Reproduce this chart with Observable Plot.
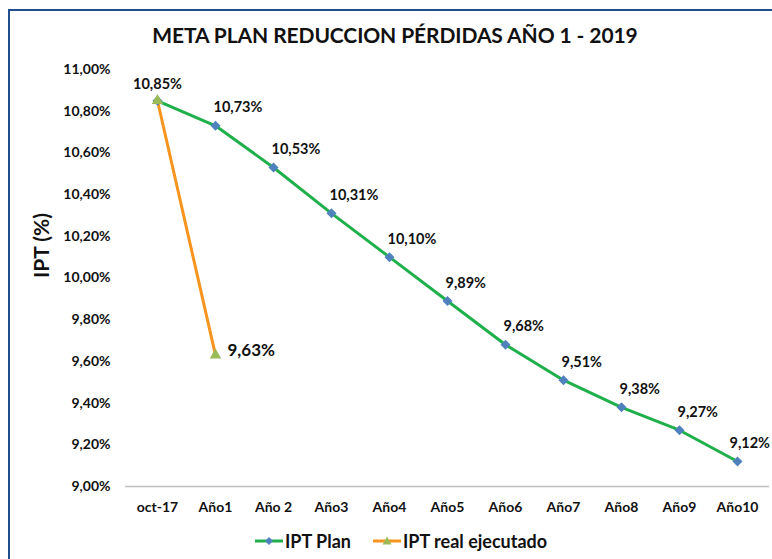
<!DOCTYPE html>
<html>
<head>
<meta charset="utf-8">
<script src="https://cdn.jsdelivr.net/npm/d3@7"></script>
<script src="https://cdn.jsdelivr.net/npm/@observablehq/plot@0.6"></script>
<style>
  html, body { margin: 0; padding: 0; background: #fff; }
  #wrap { position: relative; width: 772px; height: 559px; overflow: hidden; font-family: Lato, "Open Sans", sans-serif; }
  #frame { position: absolute; left: 8px; top: 9px; width: 800px; height: 600px; border-left: 2px solid #1f4e8c; border-top: 2px solid #1f4e8c; box-sizing: border-box; }
  #title { position: absolute; left: 0; top: 22px; width: 790px; text-align: center; font-size: 21px; font-weight: bold; color: #111; letter-spacing: -0.1px; }
  #chart { position: absolute; left: 0; top: 55px; }
  #chart svg { overflow: hidden; }
  #legend { position: absolute; top: 530px; left: 255px; height: 22px; display: flex; align-items: center; font-size: 18px; font-weight: bold; color: #111; }
  #legend .item { display: flex; align-items: center; margin-right: 22px; }
  #legend svg { margin-right: 2px; }
</style>
</head>
<body>
<div id="wrap">
  <div id="frame"></div>
  <div id="title">META PLAN REDUCCION PÉRDIDAS AÑO 1 - 2019</div>
  <div id="chart"></div>
  <div id="legend">
    <div class="item">
      <svg width="28" height="12"><line x1="0" y1="6" x2="28" y2="6" stroke="#1fb04b" stroke-width="3"/><path d="M14,2 L18,6 L14,10 L10,6 Z" fill="#4f81bd"/></svg>
      <span>IPT Plan</span>
    </div>
    <div class="item">
      <svg width="28" height="12"><line x1="0" y1="6" x2="28" y2="6" stroke="#f7941d" stroke-width="3"/><path d="M14,1.5 L18.5,9.5 L9.5,9.5 Z" fill="#9bbb59"/></svg>
      <span>IPT real ejecutado</span>
    </div>
  </div>
</div>
<script>
const categories = ["oct-17", "Año1", "Año 2", "Año3", "Año4", "Año5", "Año6", "Año7", "Año8", "Año9", "Año10"];
const planValues = [10.85, 10.73, 10.53, 10.31, 10.10, 9.89, 9.68, 9.51, 9.38, 9.27, 9.12];
const realCategories = ["oct-17", "Año1"];
const realValues = [10.85, 9.63];
const yTicks = [9.0, 9.2, 9.4, 9.6, 9.8, 10.0, 10.2, 10.4, 10.6, 10.8, 11.0];
const yTitle = "IPT (%)";

const fmt = v => v.toFixed(2).replace(".", ",") + "%";
const plan = categories.map((c, i) => ({cat: c, v: planValues[i]}));
const real = realCategories.map((c, i) => ({cat: c, v: realValues[i]}));

const chart = Plot.plot({
  width: 772,
  height: 480,
  marginLeft: 125,
  marginRight: 3,
  marginTop: 14,
  marginBottom: 49,
  style: {fontFamily: "Lato, 'Open Sans', sans-serif", color: "#111", background: "transparent"},
  x: {type: "point", domain: categories, padding: 0.5},
  y: {domain: [9, 11]},
  marks: [
    Plot.ruleY([9], {stroke: "#bfbfbf", strokeWidth: 1.5}),
    Plot.axisY({ticks: yTicks, tickSize: 0, tickPadding: 15, tickFormat: fmt, fontSize: 14, fontWeight: "bold", label: null}),
    Plot.axisX({tickSize: 0, tickPadding: 16, fontSize: 14, fontWeight: "bold", label: null}),
    Plot.text([yTitle], {frameAnchor: "left", rotate: -90, dx: -83, fontSize: 21, fontWeight: "bold", fill: "#111"}),
    Plot.line(plan, {x: "cat", y: "v", stroke: "#1fb04b", strokeWidth: 3}),
    Plot.line(real, {x: "cat", y: "v", stroke: "#f7941d", strokeWidth: 3}),
    Plot.dot(plan, {x: "cat", y: "v", symbol: "diamond2", r: 4.5, fill: "#4f81bd", stroke: null}),
    Plot.dot(real, {x: "cat", y: "v", symbol: "triangle2", r: 5.5, fill: "#9bbb59", stroke: null}),
    Plot.text(plan.slice(0, 1), {x: "cat", y: "v", text: d => fmt(d.v), dy: -16, fontSize: 14.5, fontWeight: "bold", fill: "#111"}),
    Plot.text(plan.slice(1, -1), {x: "cat", y: "v", text: d => fmt(d.v), dy: -18, dx: -2, textAnchor: "start", fontSize: 14.5, fontWeight: "bold", fill: "#111"}),
    Plot.text(plan.slice(-1), {x: "cat", y: "v", text: d => fmt(d.v), dy: -18, dx: -8, textAnchor: "start", fontSize: 14.5, fontWeight: "bold", fill: "#111"}),
    Plot.text(real.slice(1), {x: "cat", y: "v", text: d => fmt(d.v), dx: 12, dy: -5, textAnchor: "start", fontSize: 17, fontWeight: "bold", fill: "#111"})
  ]
});
document.getElementById("chart").appendChild(chart);
</script>
</body>
</html>
